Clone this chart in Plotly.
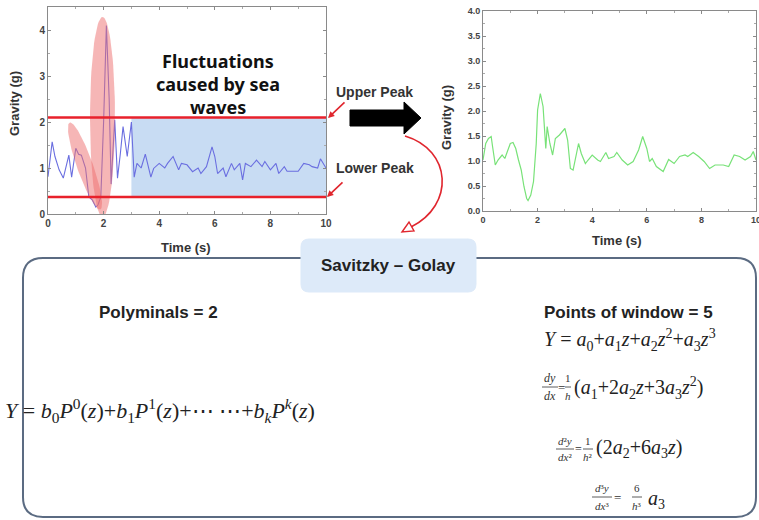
import numpy as np
import plotly.graph_objects as go

W, H = 759, 520

# ---------------- data ----------------
raw_time = [0.0, 0.15, 0.25, 0.4, 0.55, 0.75, 0.85, 1.0, 1.1, 1.2, 1.35, 1.47, 1.6, 1.72, 1.8, 1.9,
            2.0, 2.1, 2.2, 2.27, 2.4, 2.5, 2.6, 2.7, 2.85, 3.0, 3.1, 3.2, 3.35, 3.5, 3.6, 3.7, 3.8,
            4.0, 4.2, 4.3, 4.5, 4.7, 4.8, 5.0, 5.2, 5.4, 5.5, 5.7, 5.9, 6.0, 6.1, 6.3, 6.4, 6.6,
            6.7, 6.9, 7.0, 7.1, 7.3, 7.5, 7.7, 7.8, 8.0, 8.2, 8.3, 8.5, 8.6, 8.8, 9.0, 9.2, 9.4,
            9.5, 9.7, 9.8, 10.0]
raw_gravity = [0.81, 1.57, 1.25, 0.96, 0.78, 1.28, 0.80, 1.43, 1.30, 1.28, 1.0, 0.37, 0.3, 0.15, 0.2, 0.37,
               2.0, 4.1, 2.5, 0.65, 2.05, 0.78, 1.3, 1.9, 1.25, 2.0, 0.8, 1.1, 1.0, 1.3, 1.05, 0.8, 0.99,
               1.1, 1.0, 1.1, 1.25, 0.96, 1.1, 1.07, 0.92, 1.0, 0.88, 1.03, 1.46, 1.25, 0.88, 1.0, 0.81, 1.1,
               0.96, 1.1, 0.74, 1.1, 1.03, 1.17, 1.03, 1.14, 0.96, 1.1, 0.88, 1.03, 0.93, 0.93, 0.93, 1.1, 1.07,
               1.03, 1.0, 1.2, 1.0]

sg_time = [0.0, 0.1, 0.2, 0.3, 0.35, 0.45, 0.55, 0.7, 0.8, 0.9, 1.0, 1.1, 1.2, 1.3, 1.4, 1.5, 1.6, 1.65,
           1.75, 1.85, 1.95, 2.0, 2.1, 2.2, 2.25, 2.3, 2.35, 2.45, 2.55, 2.65, 2.8, 2.9, 3.0, 3.1, 3.2,
           3.3, 3.4, 3.5, 3.6, 3.75, 3.85, 4.0, 4.2, 4.3, 4.5, 4.6, 4.8, 4.9, 5.1, 5.3, 5.5, 5.7, 5.85,
           6.0, 6.1, 6.2, 6.35, 6.6, 6.8, 7.0, 7.2, 7.4, 7.5, 7.7, 7.9, 8.1, 8.3, 8.5, 8.8, 9.0, 9.2,
           9.4, 9.6, 9.8, 9.9, 10.0]
sg_gravity = [1.02, 1.35, 1.45, 1.49, 1.29, 0.92, 1.02, 1.12, 1.05, 1.19, 1.35, 1.37, 1.25, 1.02, 0.82,
              0.49, 0.25, 0.21, 0.32, 0.59, 1.35, 2.02, 2.35, 2.09, 1.55, 1.25, 1.69, 1.35, 1.12, 1.45,
              1.52, 1.59, 1.65, 1.42, 0.85, 0.82, 1.09, 1.35, 1.15, 0.95, 1.02, 1.12, 1.02, 0.99, 1.17,
              1.05, 1.09, 1.17, 1.02, 0.92, 0.99, 1.22, 1.49, 1.25, 0.99, 1.05, 0.89, 0.79, 1.03, 0.95,
              1.09, 1.12, 1.09, 1.17, 1.09, 0.99, 0.85, 0.92, 0.92, 0.89, 1.12, 1.09, 1.02, 1.09, 1.19, 1.02]

upper_peak = 2.1
lower_peak = 0.37
stable_start = 3.0

x_ticks_left = [0, 2, 4, 6, 8, 10]
y_ticks_left = [0, 1, 2, 3, 4]
y_ticks_right = [0, 0.5, 1, 1.5, 2, 2.5, 3, 3.5, 4]
y_ticks_right_text = ["0.0", "0.5", "1.0", "1.5", "2.0", "2.5", "3.0", "3.5", "4.0"]

# ---------------- geometry helpers ----------------
def PX(x):
    return x / W

def PY(y):
    return 1 - y / H

L_X0, L_X1, L_Y0, L_Y1 = 48, 326, 214, 7      # left plot frame (pixels)
R_X0, R_X1, R_Y0, R_Y1 = 483, 756, 211, 11    # right plot frame
L_RANGE_Y = [0, 4.5]

def pix_to_left(px, py):
    t = (px - L_X0) / (L_X1 - L_X0) * 10
    g = (L_Y0 - py) / (L_Y0 - L_Y1) * (L_RANGE_Y[1] - L_RANGE_Y[0])
    return t, g

def ellipse(cx, cy, a, b, ang_deg, n=90):
    th = np.linspace(0, 2 * np.pi, n)
    ang = np.radians(ang_deg)
    ux, uy = np.cos(ang), np.sin(ang)
    vx, vy = -uy, ux
    px = cx + a * np.cos(th) * ux + b * np.sin(th) * vx
    py = cy + a * np.cos(th) * uy + b * np.sin(th) * vy
    return pix_to_left(px, py)

fig = go.Figure()

# left signal
fig.add_trace(go.Scatter(x=raw_time, y=raw_gravity, mode="lines",
                         line=dict(color="#6a6ee0", width=1.1), xaxis="x", yaxis="y",
                         showlegend=False, hoverinfo="skip"))
# highlight ellipses
ang = np.degrees(np.arctan2(85, 30))
ex, ey = ellipse(85, 166, 46, 8, ang)
fig.add_trace(go.Scatter(x=ex, y=ey, fill="toself", mode="lines", line=dict(width=0),
                         fillcolor="rgba(238,110,110,0.5)", xaxis="x", yaxis="y",
                         showlegend=False, hoverinfo="skip"))
ex, ey = ellipse(102.5, 117, 100, 12.5, 90)
fig.add_trace(go.Scatter(x=ex, y=ey, fill="toself", mode="lines", line=dict(width=0),
                         fillcolor="rgba(238,110,110,0.5)", xaxis="x", yaxis="y",
                         showlegend=False, hoverinfo="skip"))
# right signal
fig.add_trace(go.Scatter(x=sg_time, y=sg_gravity, mode="lines",
                         line=dict(color="#78e278", width=1.2), xaxis="x2", yaxis="y2",
                         showlegend=False, hoverinfo="skip"))

def axis_common(fs):
    return dict(showgrid=False, zeroline=False, showline=True, mirror="ticks",
                linecolor="#8a8a8a", linewidth=1, ticks="inside", ticklen=3,
                tickcolor="#8a8a8a", automargin=False, ticklabeloverflow="allow",
                tickfont=dict(family="Liberation Sans", size=fs, color="#444", weight="bold"),
                minor=dict(ticks="inside", ticklen=2, tickcolor="#aaa"))

fig.update_layout(
    width=W, height=H, margin=dict(l=0, r=0, t=0, b=0, autoexpand=False),
    paper_bgcolor="white", plot_bgcolor="white", showlegend=False,
    xaxis=dict(domain=[PX(L_X0), PX(L_X1)], range=[0, 10], tickvals=x_ticks_left,
               minor_dtick=1, **axis_common(10)),
    yaxis=dict(domain=[PY(L_Y0), PY(L_Y1)], range=L_RANGE_Y, tickvals=y_ticks_left,
               minor_dtick=0.5, **axis_common(10)),
    xaxis2=dict(domain=[PX(R_X0), PX(R_X1)], range=[0, 10], tickvals=x_ticks_left,
                minor_dtick=1, anchor="y2", **axis_common(9)),
    yaxis2=dict(domain=[PY(R_Y0), PY(R_Y1)], range=[0, 4], tickvals=y_ticks_right,
                ticktext=y_ticks_right_text, minor_dtick=0.25, anchor="x2", **axis_common(9)),
)

shapes = []
# blue stable band
shapes.append(dict(type="rect", xref="x", yref="y", x0=stable_start, x1=10, y0=lower_peak,
                   y1=upper_peak, fillcolor="#c8dcf3", line=dict(width=0), layer="below"))
# peak lines
for yv in (upper_peak, lower_peak):
    shapes.append(dict(type="line", xref="x", yref="y", x0=0, x1=10, y0=yv, y1=yv,
                       line=dict(color="#e8212b", width=2.5), layer="above"))

def ppath(points, close=True):
    s = "M " + " L ".join(f"{PX(x):.5f},{PY(y):.5f}" for x, y in points)
    return s + (" Z" if close else "")

# big black arrow
arrow_pts = [(350, 110), (404, 110), (404, 102), (421, 118), (404, 134), (404, 126), (350, 126)]
shapes.append(dict(type="path", xref="paper", yref="paper", path=ppath(arrow_pts),
                   fillcolor="black", line=dict(color="black", width=1)))

# red curved arrow
p0, c1, c2, p3 = (405, 136), (452, 150), (455, 205), (411, 227)
curve = (f"M {PX(p0[0]):.5f},{PY(p0[1]):.5f} C {PX(c1[0]):.5f},{PY(c1[1]):.5f} "
         f"{PX(c2[0]):.5f},{PY(c2[1]):.5f} {PX(p3[0]):.5f},{PY(p3[1]):.5f}")
shapes.append(dict(type="path", xref="paper", yref="paper", path=curve,
                   line=dict(color="#e0262e", width=1.6)))
tip = (402, 232)
head = [tip, (409, 222), (414, 231)]
shapes.append(dict(type="path", xref="paper", yref="paper", path=ppath(head),
                   fillcolor="white", line=dict(color="#e0262e", width=1.4)))

# bottom rounded box
def rounded(x0, y0, x1, y1, r):
    pts = (f"M {PX(x0 + r):.5f},{PY(y0):.5f} L {PX(x1 - r):.5f},{PY(y0):.5f} "
           f"Q {PX(x1):.5f},{PY(y0):.5f} {PX(x1):.5f},{PY(y0 + r):.5f} "
           f"L {PX(x1):.5f},{PY(y1 - r):.5f} Q {PX(x1):.5f},{PY(y1):.5f} {PX(x1 - r):.5f},{PY(y1):.5f} "
           f"L {PX(x0 + r):.5f},{PY(y1):.5f} Q {PX(x0):.5f},{PY(y1):.5f} {PX(x0):.5f},{PY(y1 - r):.5f} "
           f"L {PX(x0):.5f},{PY(y0 + r):.5f} Q {PX(x0):.5f},{PY(y0):.5f} {PX(x0 + r):.5f},{PY(y0):.5f} Z")
    return pts

shapes.append(dict(type="path", xref="paper", yref="paper", path=rounded(23, 258, 756, 517, 20),
                   fillcolor="white", line=dict(color="#5b6b82", width=2), layer="below"))
shapes.append(dict(type="path", xref="paper", yref="paper", path=rounded(301, 239, 476, 292, 8),
                   fillcolor="#ddeaf9", line=dict(color="#ddeaf9", width=1)))

# fraction bars
def frac_bar(xc, yb, half):
    shapes.append(dict(type="line", xref="paper", yref="paper", x0=PX(xc - half), x1=PX(xc + half),
                       y0=PY(yb), y1=PY(yb), line=dict(color="#333", width=0.8)))

annotations = []

def txt(x, y, text, size, family="Liberation Sans", weight="normal", color="#1a1a1a",
        xanchor="center", yanchor="middle", angle=0):
    annotations.append(dict(x=PX(x), y=PY(y), xref="paper", yref="paper", text=text,
                            showarrow=False, xanchor=xanchor, yanchor=yanchor, textangle=angle,
                            font=dict(family=family, size=size, color=color, weight=weight)))

# axis titles
txt(15, 104, "Gravity (g)", 13, weight="bold", color="#333", angle=-90)
txt(186, 247, "Time (s)", 13, weight="bold", color="#333")
txt(447, 118, "Gravity (g)", 13, weight="bold", color="#333", angle=-90)
txt(617, 240, "Time (s)", 13, weight="bold", color="#333")

# big label
txt(218, 61, "Fluctuations", 18, family="Noto Sans", weight="bold", color="#111")
txt(218, 84, "caused by sea", 18, family="Noto Sans", weight="bold", color="#111")
txt(218, 107, "waves", 18, family="Noto Sans", weight="bold", color="#111")

# peak labels
txt(334, 92, "Upper Peak", 14, weight="bold", color="#333", xanchor="left")
txt(334, 168, "Lower Peak", 14, weight="bold", color="#333", xanchor="left")
for tipx, tipy, tx, ty in [(328, 118, 346, 101), (327, 197, 344, 181)]:
    annotations.append(dict(x=PX(tipx), y=PY(tipy), xref="paper", yref="paper", text="",
                            showarrow=True, ax=tx - tipx, ay=ty - tipy, arrowcolor="#e0262e",
                            arrowwidth=1.6, arrowhead=2, arrowsize=0.8))

# bottom panel texts
txt(388, 265, "Savitzky \u2013 Golay", 17, weight="bold", color="#222")
txt(97, 312, "Polyminals = 2", 17, weight="bold", color="#222", xanchor="left")
txt(542, 312, "Points of window = 5", 17, weight="bold", color="#222", xanchor="left")

SER = "Liberation Serif"
txt(3, 410, "<i>Y</i> = <i>b</i><sub>0</sub><i>P</i><sup>0</sup>(<i>z</i>)+<i>b</i><sub>1</sub>"
            "<i>P</i><sup>1</sup>(<i>z</i>)+\u22ef \u22ef+<i>b</i><sub><i>k</i></sub><i>P</i>"
            "<sup><i>k</i></sup>(<i>z</i>)", 22, family=SER, color="#222", xanchor="left")
txt(542, 340, "<i>Y</i> = <i>a</i><sub>0</sub>+<i>a</i><sub>1</sub><i>z</i>+<i>a</i><sub>2</sub>"
              "<i>z</i><sup>2</sup>+<i>a</i><sub>3</sub><i>z</i><sup>3</sup>", 20, family=SER,
    color="#222", xanchor="left")

def frac(xc, yc, num, den, size, half, gap):
    txt(xc, yc - gap, num, size, family=SER, color="#333")
    txt(xc, yc + gap, den, size, family=SER, color="#333")
    frac_bar(xc, yc, half)

# dy/dx
frac(550, 387, "<i>dy</i>", "<i>dx</i>", 12, 8, 9)
txt(561, 387, "=", 13, family=SER, color="#333")
frac(568, 387, "1", "<i>h</i>", 11, 3, 9)
txt(572, 388, "(<i>a</i><sub>1</sub>+2<i>a</i><sub>2</sub><i>z</i>+3<i>a</i><sub>3</sub>"
              "<i>z</i><sup>2</sup>)", 20, family=SER, color="#222", xanchor="left")
# d2y/dx2
frac(565, 449, "<i>d</i>\u00b2<i>y</i>", "<i>dx</i>\u00b2", 11, 9, 8)
txt(578, 449, "=", 12, family=SER, color="#333")
frac(588, 449, "1", "<i>h</i>\u00b2", 11, 5, 8)
txt(594, 448, "(2<i>a</i><sub>2</sub>+6<i>a</i><sub>3</sub><i>z</i>)", 20, family=SER,
    color="#222", xanchor="left")
# d3y/dx3
frac(602, 497, "<i>d</i>\u00b3<i>y</i>", "<i>dx</i>\u00b3", 11, 10, 9)
txt(617, 497, "=", 13, family=SER, color="#333")
frac(637, 497, "6", "<i>h</i>\u00b3", 11, 5, 9)
txt(646, 499, "<i>a</i><sub>3</sub>", 20, family=SER, color="#222", xanchor="left")

fig.update_layout(shapes=shapes, annotations=annotations)
fig.write_html("out.html", config={"displayModeBar": False},
               post_script="document.body.style.margin='0';document.body.style.padding='0';")
